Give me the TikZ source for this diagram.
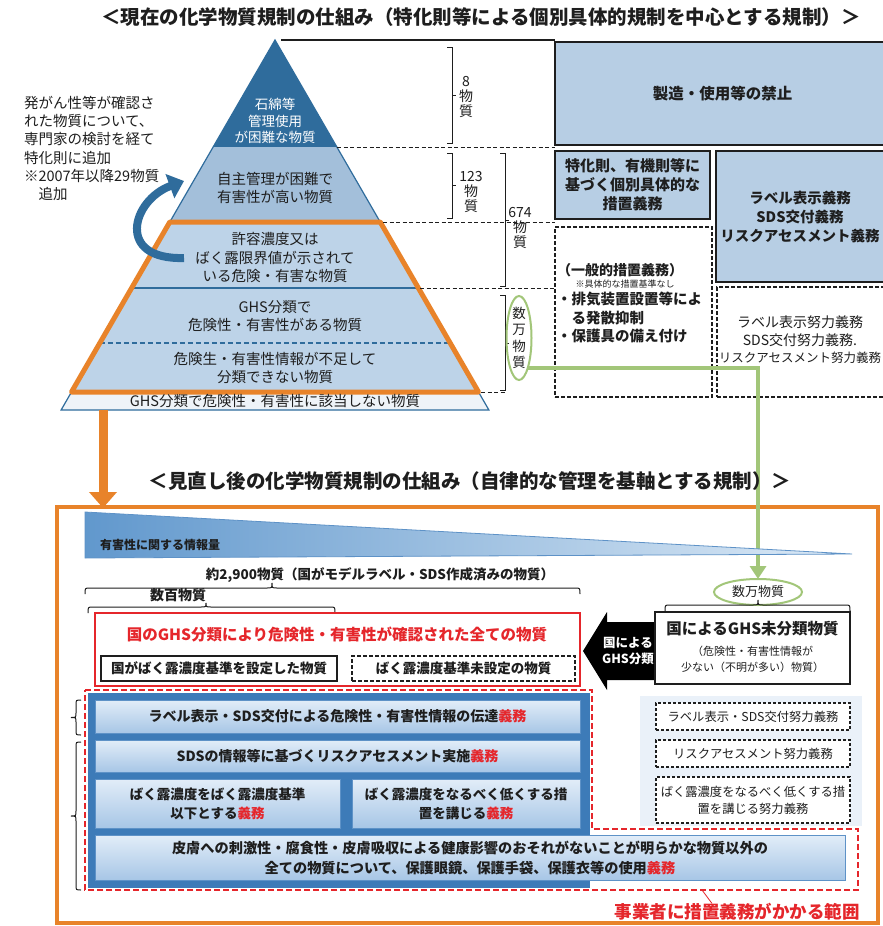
\documentclass[tikz,border=0pt]{standalone}
\usepackage{fontspec}
\setmainfont{Noto Sans CJK JP}
\usetikzlibrary{arrows.meta,shapes.geometric}
\definecolor{pdark}{HTML}{2F6C9C}
\definecolor{pmid}{HTML}{A3BFDA}
\definecolor{plight}{HTML}{BDD3E8}
\definecolor{pstrip}{HTML}{EEF3F8}
\definecolor{boxblue}{HTML}{B7CEE4}
\definecolor{orng}{HTML}{E8832A}
\definecolor{grn}{HTML}{A2C679}
\definecolor{rd}{HTML}{E5262B}
\definecolor{rowtop}{HTML}{E2EDF8}
\definecolor{rowbot}{HTML}{A7C6E6}
\definecolor{rowline}{HTML}{5E92C7}
\definecolor{backblue}{HTML}{3D7BB8}
\definecolor{wedgeL}{HTML}{6198CD}
\definecolor{wedgeR}{HTML}{DDEAF6}
\definecolor{colbg}{HTML}{EAF1F9}
\definecolor{ink}{HTML}{1E1E1E}
\newcommand{\fsz}[2]{\fontsize{#1}{#2}\selectfont}
\newcommand{\gimu}{{\color{rd}義務}}
\begin{document}
\begin{tikzpicture}[x=1pt,y=-1pt,
  every node/.style={inner sep=0pt,outer sep=0pt,text=ink},
  ttl/.style={font=\bfseries\fsz{19.5}{22}},
  tier/.style={align=center,font=\fsz{14.5}{18.5}},
  num/.style={align=center,font=\fsz{14}{15}},
  brk/.style={line width=1,draw=ink},
  tbox/.style={draw=ink,line width=1.5,fill=boxblue,align=center},
  dbox/.style={draw=ink,dash pattern=on 4pt off 2pt,line width=1.3,fill=white,align=center},
  rowbox/.style={draw=rowline,line width=0.8,top color=rowtop,bottom color=rowbot,align=center,font=\bfseries\fsz{14}{19}},
  rdash/.style={draw=ink,dash pattern=on 3pt off 2pt,line width=1.3,fill=white,align=center,font=\fsz{12.3}{17}},
  sep/.style={draw=ink,line width=1,dash pattern=on 4pt off 2.5pt},
]
\clip (0,0) rectangle (883,926);
\fill[white] (0,0) rectangle (883,926);

% ---------------- title 1
\node[ttl] (title1) at (481,17) {＜現在の化学物質規制の仕組み（特化則等による個別具体的規制を中心とする規制）＞};

% ---------------- pyramid
\fill[pdark] (275,40) -- (336.8,147) -- (213.2,147) -- cycle;
\fill[pmid] (213.2,147) -- (336.8,147) -- (380.2,222) -- (169.8,222) -- cycle;
\fill[plight] (169.8,222) -- (380.2,222) -- (478.5,392) -- (71.5,392) -- cycle;
\draw[pdark,line width=1.2] (71.5,392) -- (275,40) -- (478.5,392);
\draw[pdark,line width=1.2] (131.7,288) -- (418.3,288);
\draw[pdark,line width=1.2,dash pattern=on 5pt off 3pt] (99.9,343) -- (450.1,343);
\filldraw[fill=pstrip,draw=pdark,line width=1.2] (71.5,392) -- (478.5,392) -- (488.9,410) -- (61.1,410) -- cycle;
\draw[orng,line width=5,line join=round] (169.8,222) -- (380.2,222) -- (478.5,392) -- (71.5,392) -- cycle;

\node[tier,text=white,font=\fsz{13.5}{16.5}] (tA) at (275,121) {石綿等\\管理使用\\が困難な物質};
\node[tier] (tB) at (275,188) {自主管理が困難で\\有害性が高い物質};
\node[tier] (tC) at (275,258) {許容濃度又は\\ばく露限界値が示されて\\いる危険・有害な物質};
\node[tier] (tD) at (275,316) {GHS分類で\\危険性・有害性がある物質};
\node[tier] (tE) at (275,368) {危険生・有害性情報が不足して\\分類できない物質};
\node[tier,font=\fsz{14.5}{16}] (tF) at (275,401) {GHS分類で危険性・有害性に該当しない物質};

% left note and curved arrow
\node[anchor=north west,align=left,font=\fsz{14.5}{18.3}] (note) at (24,96) {発がん性等が確認さ\\れた物質について、\\専門家の検討を経て\\特化則に追加\\※2007年以降29物質\\　追加};
\coordinate (cvA) at (184,258);
\coordinate (cvB) at (184,181);
\draw[pdark,line width=8,-{Triangle[length=15pt,width=25pt]}] (cvA) .. controls (115,260) and (132,200) .. (cvB);

% ---------------- right-hand guide lines and brackets
\draw[ink,line width=1.2] (281,40) -- (555,40);
\draw[sep] (337,147) -- (555,147);
\draw[sep] (383,222) -- (555,222);
\draw[sep] (420,288) -- (555,288);
\draw[sep] (481,392) -- (505,392);

\draw[brk] (447,47) -- (452,47) -- (452,143) -- (447,143) (452,95) -- (456,95);
\draw[brk] (447,153) -- (452,153) -- (452,218) -- (447,218) (452,185) -- (456,185);
\draw[brk] (500,153) -- (505,153) -- (505,286) -- (500,286) (505,220) -- (509,220);
\draw[brk] (500,295) -- (505,295) -- (505,390) -- (500,390) (505,343) -- (509,343);

\node[num] (n8) at (466,97) {8\\物\\質};
\node[num] (n123) at (471,192) {123\\物\\質};
\node[num] (n674) at (520,228) {674\\物\\質};
\node[draw=grn,line width=2,ellipse,minimum width=25,minimum height=84] (smell) at (519,338) {};
\node[num,font=\fsz{13.5}{16.5}] (smtxt) at (519,338) {数\\万\\物\\質};

% ---------------- right-hand boxes
\node[tbox,minimum width=335,minimum height=103,font=\bfseries\fsz{15.5}{18}] (ban) at (722.5,93.5) {製造・使用等の禁止};
\node[tbox,minimum width=155,minimum height=68,font=\bfseries\fsz{15}{19}] (tok) at (632.5,185) {特化則、有機則等に\\基づく個別具体的な\\措置義務};
\node[tbox,minimum width=174,minimum height=131] (lab) at (803,216.5) {};
\node[align=center,font=\bfseries\fsz{14.5}{19}] (labtxt) at (800,216.5) {ラベル表示義務\\SDS交付義務\\リスクアセスメント義務};
\node[dbox,minimum width=157,minimum height=170] (gen) at (633.5,312) {};
\node[anchor=west,font=\bfseries\fsz{14}{16}] (gen1) at (557,270) {（一般的措置義務）};
\node[font=\fsz{9}{10}] (gen2) at (625,284) {※具体的な措置基準なし};
\node[anchor=north west,align=left,font=\bfseries\fsz{14.5}{18.5}] (gen3) at (557,292) {・排気装置設置等によ\\　る発散抑制\\・保護具の備え付け};
\node[dbox,minimum width=173,minimum height=110] (lab2) at (803.5,342) {};
\node[align=center,font=\fsz{14}{17.5}] (lab2txt) at (800,340) {ラベル表示努力義務\\SDS交付努力義務.\\{\fsz{12.5}{17.5}リスクアセスメント努力義務}};

% ---------------- lower section frame and ellipse
\draw[orng,line width=3.5] (57,507) rectangle (878,923);
\node[draw=grn,line width=2,ellipse,minimum width=88,minimum height=26] (lowell) at (758,592) {};
\node[font=\fsz{13}{14}] (lowtxt) at (758,592) {数万物質};

% green connector
\draw[grn,line width=4,-{Triangle[length=13pt,width=16pt]}] (smell.south east) -| (lowell.north);

% orange arrow
\coordinate (oa1) at (103,410);
\coordinate (oa2) at (103,508);
\draw[orng,line width=9,-{Triangle[length=16pt,width=27pt]}] (oa1) -- (oa2);

% title 2
\node[ttl] (title2) at (470,481) {＜見直し後の化学物質規制の仕組み（自律的な管理を基軸とする規制）＞};

% wedge
\shade[left color=wedgeL,right color=wedgeR] (85,512) -- (852,554) -- (85,558) -- cycle;
\draw[rowline,line width=0.8] (85,512) -- (852,554) -- (85,558) -- cycle;
\node[font=\bfseries\fsz{12}{13}] (info) at (160,545) {有害性に関する情報量};

% braces and counts
\node[font=\bfseries\fsz{13.5}{15}] (c2900) at (380,575) {約2,900物質（国がモデルラベル・SDS作成済みの物質）};
\draw[brk] (85,594) .. controls (85,588) .. (90,588) -- (267,588) .. controls (272,588) .. (272,583) .. controls (272,588) .. (277,588) -- (575,588) .. controls (580,588) .. (580,594);
\node[font=\bfseries\fsz{14}{15}] (c100) at (178,595) {数百物質};
\draw[brk] (88,613) .. controls (88,607) .. (93,607) -- (201,607) .. controls (206,607) .. (206,603) .. controls (206,607) .. (211,607) -- (330,607) .. controls (335,607) .. (335,613);
\draw[brk] (665,611) .. controls (665,605) .. (670,605) -- (753,605) .. controls (758,605) .. (758,600) .. controls (758,605) .. (763,605) -- (845,605) .. controls (850,605) .. (850,611);

% red box
\node[draw=rd,line width=2,fill=white,minimum width=485,minimum height=73] (redbox) at (337.5,649.5) {};
\node[text=rd,font=\bfseries\fsz{15.5}{17}] (redtitle) at (337,634) {国のGHS分類により危険性・有害性が確認された全ての物質};
\node[draw=ink,line width=1.5,fill=white,minimum width=236,minimum height=25,font=\bfseries\fsz{13.5}{15}] (setb) at (219,668.5) {国がばく露濃度基準を設定した物質};
\node[dbox,minimum width=223,minimum height=25,font=\bfseries\fsz{13.5}{15}] (unsetb) at (463.5,668.5) {ばく露濃度基準未設定の物質};

% black arrow
\fill[black] (583,651) -- (607,612) -- (607,622) -- (655,622) -- (655,680) -- (607,680) -- (607,690) -- cycle;
\node[text=white,align=center,font=\bfseries\fsz{12.5}{16}] (gov) at (628,651) {国による\\GHS分類};

% unclassified box
\node[draw=ink,line width=1.5,fill=white,minimum width=195,minimum height=72] (uncl) at (752.5,648) {};
\node[font=\bfseries\fsz{15.5}{17}] (uncl1) at (752.5,629) {国によるGHS未分類物質};
\node[align=center,font=\fsz{11}{16}] (uncl2) at (752.5,659) {（危険性・有害性情報が\\少ない（不明が多い）物質）};

% ---------------- obligations
\fill[backblue] (88,693) rectangle (590,888);
\fill[colbg] (640,696) rectangle (862,826);
\node[rowbox,minimum width=485,minimum height=33] (r1) at (337.5,716.5) {ラベル表示・SDS交付による危険性・有害性情報の伝達\gimu};
\node[rowbox,minimum width=485,minimum height=32] (r2) at (337.5,756) {SDSの情報等に基づくリスクアセスメント実施\gimu};
\node[rowbox,minimum width=245,minimum height=49,font=\bfseries\fsz{13.5}{19}] (r3a) at (217.5,803.5) {ばく露濃度をばく露濃度基準\\以下とする\gimu};
\node[rowbox,minimum width=228,minimum height=49,font=\bfseries\fsz{13.5}{19}] (r3b) at (466,803.5) {ばく露濃度をなるべく低くする措\\置を講じる\gimu};
\node[rowbox,minimum width=750,minimum height=45,font=\bfseries\fsz{14.2}{20}] (r4) at (470,857.5) {皮膚への刺激性・腐食性・皮膚吸収による健康影響のおそれがないことが明らかな物質以外の\\全ての物質について、保護眼鏡、保護手袋、保護衣等の使用\gimu};

\node[rdash,minimum width=194,minimum height=27] (d1) at (753,716.5) {ラベル表示・SDS交付努力義務};
\node[rdash,minimum width=194,minimum height=27] (d2) at (753,753.5) {リスクアセスメント努力義務};
\node[rdash,minimum width=194,minimum height=46] (d3) at (753,800) {ばく露濃度をなるべく低くする措\\置を講じる努力義務};

\draw[rd,line width=2.5,dash pattern=on 6pt off 3pt] (85,690) -- (592,690) -- (592,829) -- (858,829) -- (858,890) -- (85,890) -- cycle;

\draw[brk] (81,700) .. controls (76,700) .. (76,705) -- (76,713) .. controls (76,717.5) .. (71,717.5) .. controls (76,717.5) .. (76,722) -- (76,730) .. controls (76,735) .. (81,735);
\draw[brk] (81,742) .. controls (76,742) .. (76,747) -- (76,811) .. controls (76,816) .. (71,816) .. controls (76,816) .. (76,821) -- (76,885) .. controls (76,890) .. (81,890);

\node[text=rd,font=\bfseries\fsz{17.5}{19}] (lbl) at (737,912) {事業者に措置義務がかかる範囲};
\coordinate (rdp) at (702,890);
\draw[rd,line width=0.8] (rdp) -- ([xshift=-25pt]lbl.north);
\end{tikzpicture}
\end{document}
